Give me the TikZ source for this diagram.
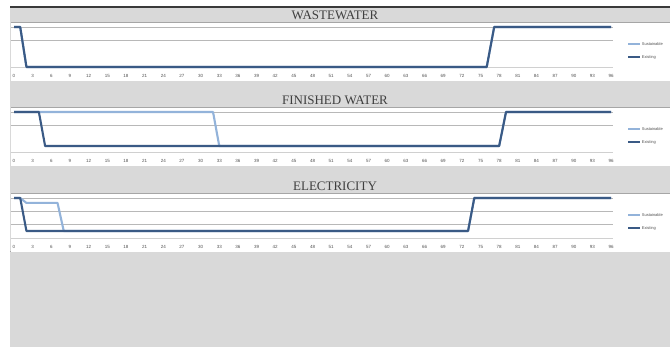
\documentclass[tikz,border=0pt]{standalone}
\usepackage{fontspec}
\setmainfont{Liberation Serif}
\newfontfamily\chartfont{Liberation Sans}
\usetikzlibrary{calc}
\definecolor{BAND}{HTML}{D9D9D9}
\definecolor{FRAME}{HTML}{3A3A3A}
\definecolor{EDGE}{HTML}{A6A6A6}
\definecolor{GRID}{HTML}{B8B8B8}
\definecolor{AXIS}{HTML}{D0D0D0}
\definecolor{TITLE}{HTML}{3F3F3F}
\definecolor{TICK}{HTML}{505050}
\definecolor{DARKBLUE}{HTML}{3A5A85}
\definecolor{LIGHTBLUE}{HTML}{93B3DA}

\begin{document}
\begin{tikzpicture}[x=1pt, y=-1pt,
    title/.style={font=\fontsize{13}{13}\selectfont, text=TITLE, inner sep=0pt},
    ticklabel/.style={font=\chartfont\fontsize{4.5}{4.5}\selectfont, text=TICK, inner sep=0pt},
    legendtext/.style={font=\chartfont\fontsize{4}{4}\selectfont, text=TICK, inner sep=1pt, anchor=west},
    legendline/.style={line width=1.8pt},
    series/.style={line width=2.1pt, line join=round}]
    \useasboundingbox (0,0) rectangle (670,347);
    \fill[white] (0,0) rectangle (670,347);
    \fill[BAND] (10,8) rectangle (670,347);
    \draw[FRAME, line width=1.2pt] (10,7) -- (670,7);
    \draw[EDGE, line width=1pt] (10,252) -- (670,252);
    % one frame per chart: plot area, grid, title, axis labels, legend
    \foreach \py/\name/\txt in {22/waste/WASTEWATER, 107/finished/FINISHED WATER, 193/elec/ELECTRICITY} {
        \fill[white] (11,\py) rectangle (670,\py+59);
        \draw[EDGE, line width=0.4pt] (11,\py) -- (670,\py);
        \draw[GRID, line width=0.7pt] (11,\py+5) -- (613,\py+5);
        \draw[GRID, line width=0.7pt] (11,\py+18) -- (613,\py+18);
        \draw[AXIS, line width=0.7pt] (11,\py+45) -- (613,\py+45);
        \node[title] (\name-title) at (335,\py-7) {\txt};
        \foreach \t in {0,3,...,96}
            \node[ticklabel] (\name-tick\t) at (14+6.22*\t,\py+54) {\t};
        \draw[LIGHTBLUE, legendline] (628,\py+22) -- (640,\py+22) node[legendtext] (\name-new) {Sustainable};
        \draw[DARKBLUE, legendline] (628,\py+35) -- (640,\py+35) node[legendtext] (\name-old) {Existing};
    }
    \draw[GRID, line width=0.7pt] (11,224) -- (613,224);
    % wastewater
    \begin{scope}[shift={(14,67)}, x=6.22pt, y=40pt]
        \draw[LIGHTBLUE, series] (0,1) -- (1,1) -- (2,0) -- (76,0) -- (77.2,1) -- (96,1);
        \draw[DARKBLUE, series] (0,1) -- (1,1) -- (2,0) -- (76,0) -- (77.2,1) -- (96,1);
    \end{scope}
    % finished water
    \begin{scope}[shift={(14,146)}, x=6.22pt, y=34pt]
        \draw[LIGHTBLUE, series] (0,1) -- (32,1) -- (33,0) -- (78,0) -- (79.1,1) -- (96,1);
        \draw[DARKBLUE, series] (0,1) -- (4,1) -- (5,0) -- (78,0) -- (79.1,1) -- (96,1);
    \end{scope}
    % electricity
    \begin{scope}[shift={(14,231)}, x=6.22pt, y=33pt]
        \draw[LIGHTBLUE, series] (0,1) -- (1,1) -- (2,0.85) -- (7,0.85) -- (8,0) -- (73,0) -- (74,1) -- (96,1);
        \draw[DARKBLUE, series] (0,1) -- (1,1) -- (2,0) -- (73,0) -- (74,1) -- (96,1);
    \end{scope}
\end{tikzpicture}
\end{document}
